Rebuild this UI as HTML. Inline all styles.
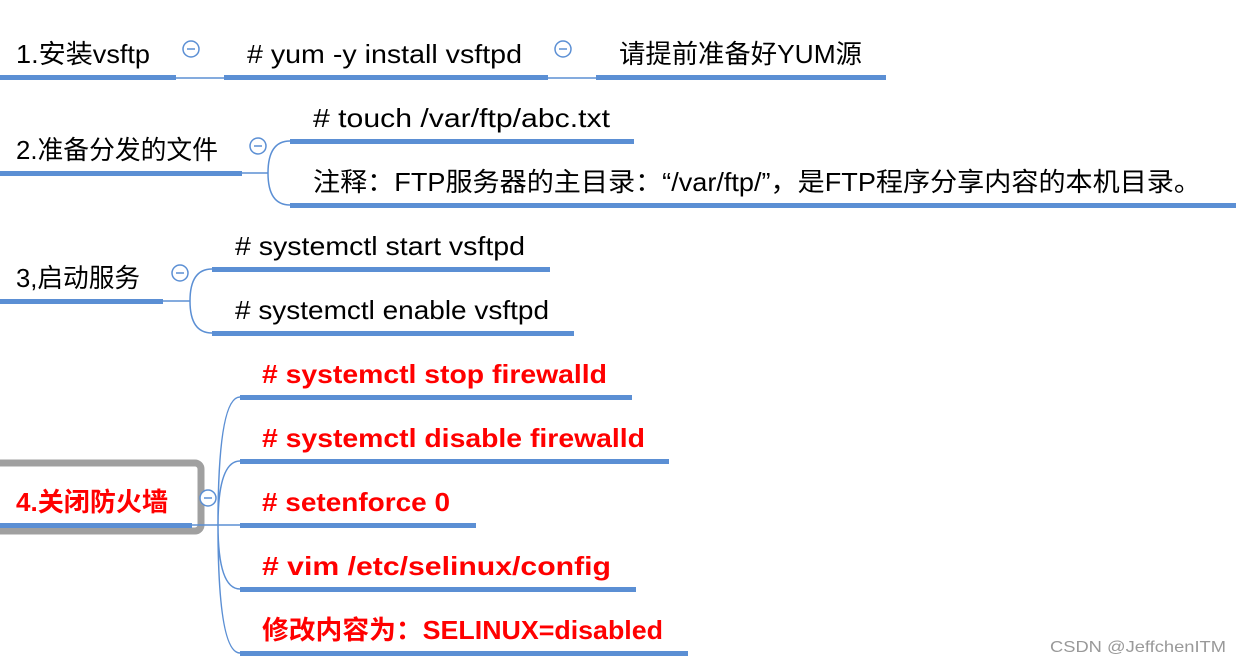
<!DOCTYPE html>
<html><head><meta charset="utf-8"><style>
html,body{margin:0;padding:0;background:#fff;width:1241px;height:662px;overflow:hidden}
text{font-family:"Liberation Sans","Noto Sans CJK SC",sans-serif;font-size:26px;fill:#000}
.r{fill:#ff0000;font-weight:bold}
</style></head><body>
<svg width="1241" height="662" xmlns="http://www.w3.org/2000/svg">
<g fill="#5b8fd4">
<rect x="0" y="75" width="176" height="5"/><rect x="224" y="75" width="324" height="5"/><rect x="596" y="75" width="290" height="5"/>
<rect x="0" y="171" width="242" height="5"/><rect x="290" y="139" width="344" height="5"/><rect x="290" y="203" width="946" height="5"/>
<rect x="0" y="299" width="163" height="5"/><rect x="212" y="267" width="338" height="5"/><rect x="212" y="331" width="362" height="5"/>
<rect x="240" y="395" width="392" height="5"/><rect x="240" y="459" width="429" height="5"/><rect x="240" y="523" width="236" height="5"/><rect x="240" y="587" width="396" height="5"/><rect x="240" y="651" width="448" height="5"/>
</g>
<rect x="-10" y="463" width="211" height="68" rx="6" fill="none" stroke="#a0a0a0" stroke-width="7"/>
<rect x="0" y="523" width="192" height="5" fill="#5b8fd4"/>
<g fill="none" stroke="#5b8fd4" stroke-width="1.5">
<path d="M176 78H224M548 78H596"/>
<path d="M242 173H268M268 173Q268 141 290 141M268 173Q268 205 290 205"/>
<path d="M163 301H190M190 301Q190 269 212 269M190 301Q190 333 212 333"/>
<path d="M192 525H240M218 525Q218 397 240 397M218 525Q218 461 240 461M218 525Q218 589 240 589M218 525Q218 653 240 653"/>
<circle cx="191" cy="49" r="8" fill="#fff"/><circle cx="563" cy="49" r="8" fill="#fff"/>
<circle cx="258" cy="146" r="8" fill="#fff"/><circle cx="180" cy="273" r="8" fill="#fff"/><circle cx="208" cy="498" r="8" fill="#fff"/>
<path d="M187 49h8M559 49h8M254 146h8M176 273h8M204 498h8"/>
</g>
<g lengthAdjust="spacingAndGlyphs">
<text x="16" y="63" textLength="134" lengthAdjust="spacingAndGlyphs">1.安装vsftp</text>
<text x="247" y="63" textLength="275" lengthAdjust="spacingAndGlyphs"># yum -y install vsftpd</text>
<text x="619" y="63" textLength="243" lengthAdjust="spacingAndGlyphs">请提前准备好YUM源</text>
<text x="16" y="159" textLength="202" lengthAdjust="spacingAndGlyphs">2.准备分发的文件</text>
<text x="313" y="127" textLength="297" lengthAdjust="spacingAndGlyphs"># touch /var/ftp/abc.txt</text>
<text x="313" y="191" textLength="888" lengthAdjust="spacingAndGlyphs">注释：FTP服务器的主目录：“/var/ftp/”，是FTP程序分享内容的本机目录。</text>
<text x="16" y="287" textLength="124" lengthAdjust="spacingAndGlyphs">3,启动服务</text>
<text x="235" y="255" textLength="290" lengthAdjust="spacingAndGlyphs"># systemctl start vsftpd</text>
<text x="235" y="319" textLength="314" lengthAdjust="spacingAndGlyphs"># systemctl enable vsftpd</text>
<text class="r" x="16" y="511" textLength="152" lengthAdjust="spacingAndGlyphs">4.关闭防火墙</text>
<text class="r" x="262" y="383" textLength="345" lengthAdjust="spacingAndGlyphs"># systemctl  stop firewalld</text>
<text class="r" x="262" y="447" textLength="383" lengthAdjust="spacingAndGlyphs"># systemctl  disable firewalld</text>
<text class="r" x="262" y="511" textLength="188" lengthAdjust="spacingAndGlyphs"># setenforce 0</text>
<text class="r" x="262" y="575" textLength="349" lengthAdjust="spacingAndGlyphs"># vim   /etc/selinux/config</text>
<text class="r" x="262" y="639" textLength="401" lengthAdjust="spacingAndGlyphs">修改内容为：SELINUX=disabled</text>
<text x="1050" y="652" textLength="176" lengthAdjust="spacingAndGlyphs" style="font-size:16px;fill:#999">CSDN @JeffchenITM</text>
</g>
</svg>
</body></html>
